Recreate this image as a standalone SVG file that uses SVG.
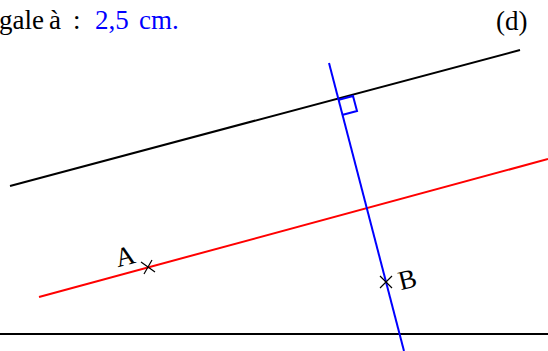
<svg xmlns="http://www.w3.org/2000/svg" width="548" height="351" viewBox="0 0 548 351">
<style>
.t{font-family:"Liberation Serif","DejaVu Serif",serif;font-size:27px;fill:#000}
.blk{stroke:#000;stroke-width:2;fill:none}
.red{stroke:#f00;stroke-width:2;fill:none}
.blu{stroke:#00f;stroke-width:2;fill:none}
.x{stroke:#000;stroke-width:1.2;fill:none}
</style>
<rect width="548" height="351" fill="#fff"/>
<g id="caption"><text class="t" y="29"><tspan x="-1">gale</tspan><tspan x="49">à</tspan><tspan x="73">:</tspan><tspan x="95" fill="#00f">2,5</tspan><tspan x="139" fill="#00f">cm.</tspan></text></g>
<g id="label-d"><text class="t" x="496" y="30">(d)</text></g>
<g id="connectors">
<line id="line-d" class="blk" x1="10" y1="186" x2="520" y2="50"/>
<line id="line-bottom" class="blk" x1="0" y1="334" x2="548" y2="334"/>
<line id="line-red" class="red" x1="39" y1="297" x2="548" y2="159"/>
<line id="line-blue" class="blu" x1="329" y1="63" x2="404" y2="351"/>
<polyline id="right-angle" class="blu" points="338,100 353,96 357,111 342,115"/>
</g>
<g id="point-A">
<path class="x" d="M141,262 L155,272 M144,274 L152,260"/>
<text class="t" x="115" y="265" transform="rotate(-14 126 255)">A</text>
</g>
<g id="point-B">
<path class="x" d="M380,276 L392,288 M380,288 L392,276"/>
<text class="t" x="398" y="288" transform="rotate(-14 409 278)">B</text>
</g>
</svg>
